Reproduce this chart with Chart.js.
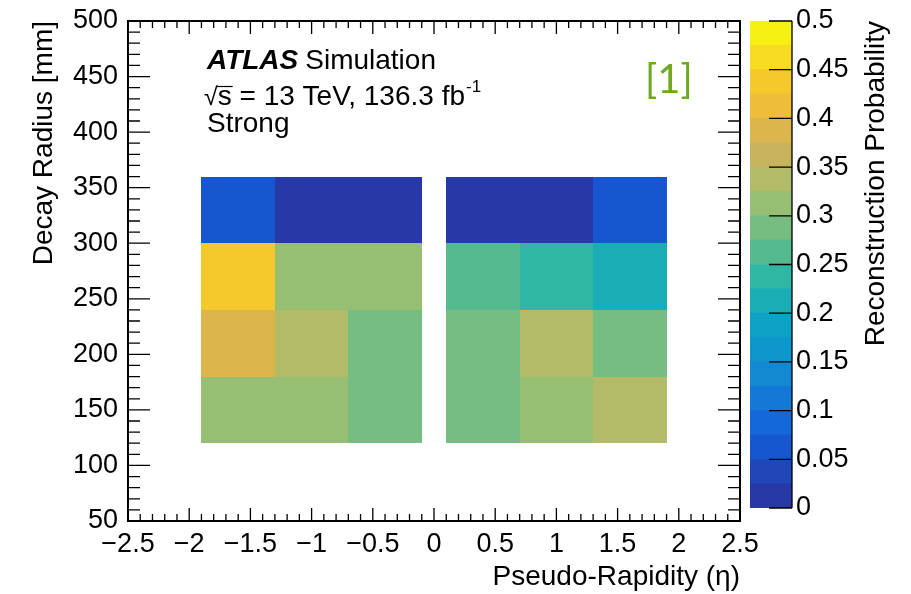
<!DOCTYPE html>
<html>
<head>
<meta charset="utf-8">
<script src="https://cdn.jsdelivr.net/npm/chart.js@4.4.0/dist/chart.umd.min.js"></script>
<style>
  html, body { margin: 0; padding: 0; background: #fff; }
  #wrap { position: relative; width: 911px; height: 594px; }
  #main { position: absolute; left: 0; top: 0; }
  #zbar { position: absolute; left: 745px; top: 0; }
</style>
</head>
<body>
<div id="wrap">
  <canvas id="main" width="911" height="594"></canvas>
  <canvas id="zbar" width="166" height="594"></canvas>
</div>
<script>
// eta bins (the gap around 0 is empty)
const etaBins = [[-1.9, -1.3], [-1.3, -0.7], [-0.7, -0.1], [0.1, 0.7], [0.7, 1.3], [1.3, 1.9]];
// decay radius bins [mm]
const radiusBins = [[120, 180], [180, 240], [240, 300], [300, 360]];
// reconstruction probability per radius bin, one value per eta bin
const prob120 = [0.31, 0.31, 0.29, 0.29, 0.31, 0.34];
const prob180 = [0.39, 0.34, 0.29, 0.29, 0.34, 0.29];
const prob240 = [0.43, 0.31, 0.31, 0.26, 0.24, 0.21];
const prob300 = [0.06, 0.01, 0.01, 0.01, 0.01, 0.06];
// colour scale levels
const zLevels = [0, 0.025, 0.05, 0.075, 0.1, 0.125, 0.15, 0.175, 0.2, 0.225, 0.25,
                 0.275, 0.3, 0.325, 0.35, 0.375, 0.4, 0.425, 0.45, 0.475, 0.5];

const palette = ['#2639a6', '#2046b8', '#1657d0', '#1468da', '#1479d6', '#1389d1',
                 '#0e97cc', '#0ea3c5', '#1aadb6', '#30b7a3', '#55b98f', '#76bd81',
                 '#97bf73', '#b2bb68', '#c7b35e', '#dcb54d', '#eebd3a', '#f5c82b',
                 '#f8dc22', '#f6f013'];

function colorFor(v) {
  let k = 0;
  while (k < palette.length - 1 && v >= zLevels[k + 1]) k++;
  return palette[k];
}

const FONT = 'Liberation Sans, Arial, Helvetica, sans-serif';
Chart.defaults.font.family = FONT;
Chart.defaults.font.size = 27;
Chart.defaults.color = '#000';

const rows = [prob120, prob180, prob240, prob300];
const minus = s => String(s).replace('-', '\u2212');

// 2D histogram cells, placed through the chart scales
const cells = {
  id: 'cells',
  beforeDatasetsDraw(chart) {
    const { ctx, scales: { x, y } } = chart;
    ctx.save();
    rows.forEach((vals, r) => {
      const y0 = Math.round(y.getPixelForValue(radiusBins[r][1]));
      const y1 = Math.round(y.getPixelForValue(radiusBins[r][0]));
      vals.forEach((v, i) => {
        const x0 = Math.round(x.getPixelForValue(etaBins[i][0]));
        const x1 = Math.round(x.getPixelForValue(etaBins[i][1]));
        ctx.fillStyle = colorFor(v);
        ctx.fillRect(x0, y0, x1 - x0, y1 - y0);
      });
    });
    ctx.restore();
  }
};

const frameTicks = {
  id: 'frameTicks',
  afterDraw(chart) {
    const { ctx, chartArea: a, scales: { x, y } } = chart;
    ctx.save();
    ctx.strokeStyle = '#000';
    ctx.lineWidth = 1.3;
    ctx.beginPath();
    for (let i = -25; i <= 25; i++) {
      const px = x.getPixelForValue(i / 10);
      const len = i % 5 === 0 ? 13 : 7;
      ctx.moveTo(px, a.bottom); ctx.lineTo(px, a.bottom - len);
      ctx.moveTo(px, a.top); ctx.lineTo(px, a.top + len);
    }
    for (let v = 50; v <= 500; v += 10) {
      const py = y.getPixelForValue(v);
      const len = v % 50 === 0 ? 22 : 12;
      ctx.moveTo(a.left, py); ctx.lineTo(a.left + len, py);
      ctx.moveTo(a.right, py); ctx.lineTo(a.right - len, py);
    }
    ctx.stroke();
    ctx.lineWidth = 2;
    ctx.strokeRect(a.left, a.top, a.width, a.height);

    // labels
    ctx.fillStyle = '#000';
    ctx.textBaseline = 'alphabetic';
    ctx.textAlign = 'left';
    ctx.font = 'italic bold 28px ' + FONT;
    ctx.fillText('ATLAS', 207, 69);
    const w1 = ctx.measureText('ATLAS').width;
    ctx.font = '28px ' + FONT;
    ctx.fillText('Simulation', 207 + w1 + 7, 69);

    ctx.font = '25px ' + FONT;
    ctx.fillText('\u221A', 204, 105);
    const wr = ctx.measureText('\u221A').width;
    ctx.font = '28px ' + FONT;
    const sx = 204 + wr;
    ctx.fillText('s', sx, 105);
    const ws = ctx.measureText('s').width;
    ctx.lineWidth = 1.2;
    ctx.beginPath();
    ctx.moveTo(sx - 1, 86.5); ctx.lineTo(sx + ws + 1, 86.5);
    ctx.stroke();
    const rest = ' = 13 TeV, 136.3 fb';
    ctx.fillText(rest, sx + ws, 105);
    const wrest = ctx.measureText(rest).width;
    ctx.font = '17px ' + FONT;
    ctx.fillText('-1', sx + ws + wrest + 1, 92);

    ctx.font = '28px ' + FONT;
    ctx.fillText('Strong', 207, 132);

    ctx.fillStyle = '#6fa823';
    ctx.font = '40px Lato, ' + FONT;
    ctx.fillText('[1]', 645, 93);
    ctx.restore();
  }
};

new Chart(document.getElementById('main'), {
  type: 'scatter',
  data: { datasets: [] },
  options: {
    responsive: false,
    animation: false,
    events: [],
    layout: { padding: { left: 0, top: 21, right: 171, bottom: 0 } },
    plugins: { legend: { display: false }, tooltip: { enabled: false } },
    scales: {
      x: {
        type: 'linear',
        min: -2.5,
        max: 2.5,
        grid: { display: false, drawTicks: false },
        border: { display: false },
        ticks: { stepSize: 0.5, autoSkip: false, maxRotation: 0, padding: 7, callback: v => minus(v) },
        title: { display: true, text: 'Pseudo-Rapidity (\u03B7)', align: 'end', font: { size: 28 }, padding: { top: 1, bottom: 0 } },
        afterFit: s => { s.height = 73; s.paddingLeft = 0; s.paddingRight = 0; }
      },
      y: {
        type: 'linear',
        min: 50,
        max: 500,
        grid: { display: false, drawTicks: false },
        border: { display: false },
        ticks: { stepSize: 50, autoSkip: false, padding: 10 },
        title: { display: true, text: 'Decay Radius [mm]', align: 'end', font: { size: 28 }, padding: { top: 27, bottom: 0 } },
        afterFit: s => { s.width = 128; s.paddingTop = 0; s.paddingBottom = 0; }
      }
    }
  },
  plugins: [cells, frameTicks]
});

// colour bar
const zData = palette.map((c, k) => ({
  data: [[zLevels[k], zLevels[k + 1]]],
  backgroundColor: c,
  borderWidth: 0,
  barPercentage: 1,
  categoryPercentage: 1,
  grouped: false
}));

const zAxisDeco = {
  id: 'zAxisDeco',
  afterDraw(chart) {
    const { ctx, chartArea: a, scales: { y } } = chart;
    ctx.save();
    ctx.strokeStyle = '#000';
    ctx.lineWidth = 1.3;
    ctx.beginPath();
    ctx.moveTo(a.right, a.top); ctx.lineTo(a.right, a.bottom);
    y.ticks.forEach(t => {
      const py = y.getPixelForValue(t.value);
      ctx.moveTo(a.right, py); ctx.lineTo(a.right - 23, py);
    });
    ctx.stroke();
    ctx.translate(131, 21);
    ctx.rotate(-Math.PI / 2);
    ctx.fillStyle = '#000';
    ctx.font = '28px ' + FONT;
    ctx.textAlign = 'right';
    ctx.textBaseline = 'middle';
    ctx.fillText('Reconstruction Probability', 0, 0);
    ctx.restore();
  }
};

new Chart(document.getElementById('zbar'), {
  type: 'bar',
  data: { labels: [''], datasets: zData },
  options: {
    responsive: false,
    animation: false,
    events: [],
    layout: { padding: { left: 5, top: 21, right: 0, bottom: 86 } },
    plugins: { legend: { display: false }, tooltip: { enabled: false } },
    scales: {
      x: { display: false },
      y: {
        position: 'right',
        min: 0,
        max: 0.5,
        grid: { display: false, drawTicks: false },
        border: { display: false },
        ticks: { stepSize: 0.05, autoSkip: false, padding: 4, callback: v => String(+v.toFixed(3)) },
        afterFit: s => { s.width = 119; s.paddingTop = 0; s.paddingBottom = 0; }
      }
    }
  },
  plugins: [zAxisDeco]
});
</script>
</body>
</html>
